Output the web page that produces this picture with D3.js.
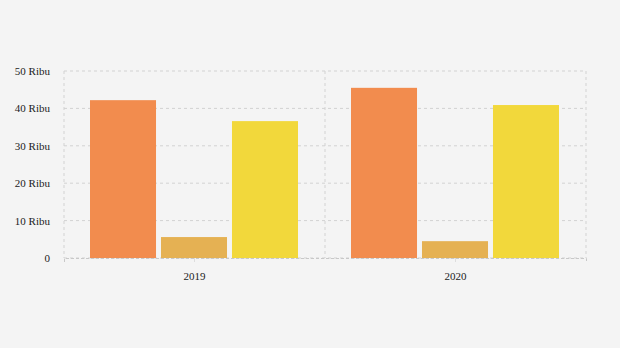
<!DOCTYPE html>
<html><head><meta charset="utf-8">
<script src="https://cdn.jsdelivr.net/npm/d3@7"></script>
<style>body{margin:0;background:#f4f4f4}svg{display:block}</style>
</head><body><svg id="c" width="620" height="348"></svg>
<script>
const categories = ["2019", "2020"];
const seriesNames = ["A", "B", "C"];
const seriesA = [42.2, 45.5];
const seriesB = [5.6, 4.5];
const seriesC = [36.6, 40.9];
const colors = ["#f28c4e", "#e5b153", "#f2d83b"];
const yTicks = [0, 10, 20, 30, 40, 50];
const yTickLabels = ["0", "10 Ribu", "20 Ribu", "30 Ribu", "40 Ribu", "50 Ribu"];

const svg = d3.select("#c");
const m = {l: 64, r: 34, t: 71, b: 90};
const W = 620 - m.l - m.r, H = 348 - m.t - m.b;
const g = svg.append("g").attr("transform", `translate(${m.l},${m.t})`);
const x = d3.scaleBand().domain(categories).range([0, W]);
const xs = d3.scaleBand().domain(seriesNames).range([26, x.bandwidth() - 27]).paddingInner(0.07);
const y = d3.scaleLinear().domain([0, 50]).range([H, 0]);

// grid horizontal
g.selectAll(".hg").data(yTicks).join("line")
  .attr("x1", 0).attr("x2", W).attr("y1", d => y(d)).attr("y2", d => y(d))
  .attr("stroke", "#d2d2d2").attr("stroke-dasharray", "3,3").attr("stroke-width", 1);
// grid vertical
g.selectAll(".vg").data([0, x.bandwidth(), W]).join("line")
  .attr("x1", d => d).attr("x2", d => d).attr("y1", 0).attr("y2", H)
  .attr("stroke", "#d2d2d2").attr("stroke-dasharray", "3,3");

const data = [seriesA, seriesB, seriesC];
categories.forEach((c, i) => {
  g.selectAll(null).data(seriesNames).join("rect")
    .attr("x", (s) => x(c) + xs(s))
    .attr("width", xs.bandwidth())
    .attr("y", (s, j) => y(data[j][i]))
    .attr("height", (s, j) => H - y(data[j][i]))
    .attr("fill", (s, j) => colors[j]);
});

// y labels
const ya = g.append("g").call(d3.axisLeft(y).tickValues(yTicks).tickFormat((d, i) => yTickLabels[i]).tickSize(0).tickPadding(14));
ya.select(".domain").remove();
ya.selectAll("text").attr("font-family", "Liberation Serif").attr("font-size", 11).attr("fill", "#222");

// x axis
const xa = g.append("g").attr("transform", `translate(0,${H})`).call(d3.axisBottom(x).tickSize(4).tickPadding(10));
xa.select(".domain").attr("stroke", "#c8c8c8").attr("stroke-dasharray", "3,2");
xa.selectAll(".tick line").attr("stroke", "#ddd");
xa.selectAll("text").attr("font-family", "Liberation Serif").attr("font-size", 11).attr("fill", "#222");
</script></body></html>
